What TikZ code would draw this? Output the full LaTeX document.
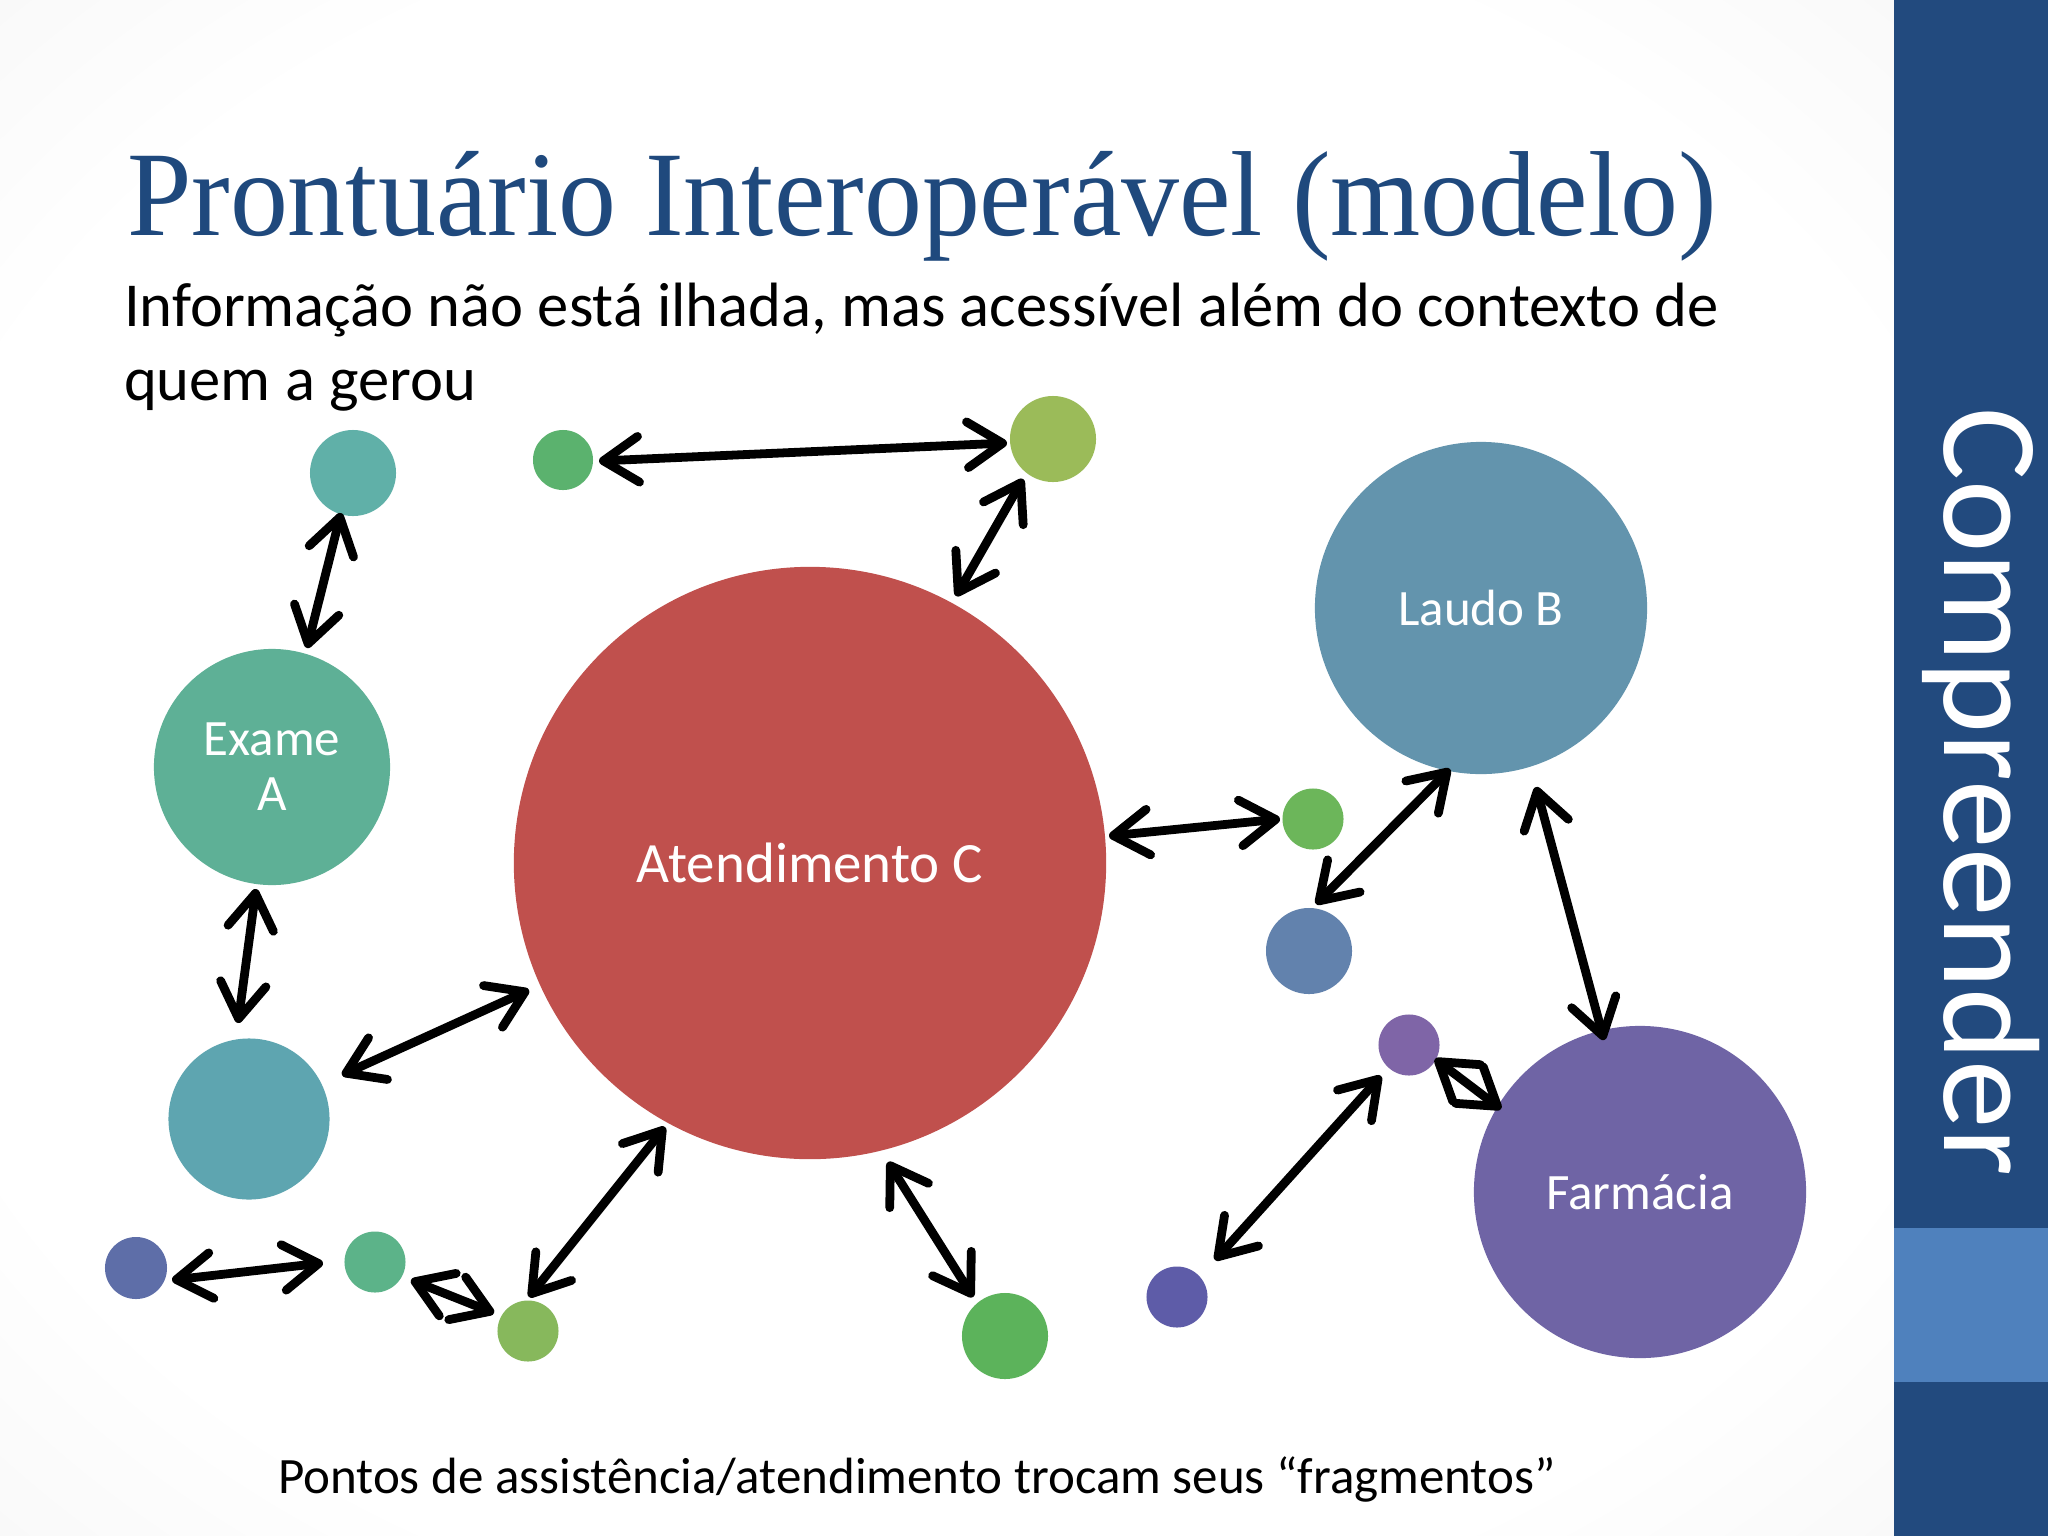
\documentclass[tikz,border=0pt]{standalone}
\usepackage{fontspec}
\setmainfont{Carlito}
\newfontfamily\titlefont{Liberation Serif}
\usetikzlibrary{arrows.meta,calc}
\definecolor{titleblue}{HTML}{1F497D}
\definecolor{sidebar}{HTML}{224A7E}
\definecolor{sideband}{HTML}{4F81BD}
\definecolor{cRed}{HTML}{C0504D}
\definecolor{cTealTop}{HTML}{60B0A8}
\definecolor{cGreenTop}{HTML}{5BB26E}
\definecolor{cOlive}{HTML}{9BBB59}
\definecolor{cExame}{HTML}{5EB096}
\definecolor{cLaudo}{HTML}{6394AD}
\definecolor{cGreenR}{HTML}{6CB65A}
\definecolor{cBGray}{HTML}{6282AD}
\definecolor{cPurple}{HTML}{7F65A7}
\definecolor{cFarm}{HTML}{6F64A5}
\definecolor{cNavy}{HTML}{5E5CA8}
\definecolor{cTealMed}{HTML}{5EA5B0}
\definecolor{cBlueFL}{HTML}{5E6EA8}
\definecolor{cGSmall}{HTML}{5CB389}
\definecolor{cLGreen}{HTML}{87B85C}
\definecolor{cGBot}{HTML}{5CB35B}
\pgfdeclareradialshading{vign}{\pgfpoint{0bp}{0bp}}{color(0bp)=(white);color(28bp)=(white);color(50bp)=(black!7);color(72bp)=(black!16)}
\begin{document}
\begin{tikzpicture}[x=0.01cm,y=-0.01cm,
  blob/.style 2 args={circle,inner sep=0pt,fill=#1,minimum size=#2,text=white,align=center,
     font=\fontsize{14.5}{15.6}\selectfont},
  dar/.style={{Straight Barb[length=10pt,width=13pt,round]}-{Straight Barb[length=10pt,width=13pt,round]},
     line width=2.5pt,line cap=round},
  txt/.style={anchor=base west,inner sep=0pt,outer sep=0pt}]
\useasboundingbox (0,0) rectangle (2048,1536);
\shade[shading=vign] (0,0) rectangle (1894,1536);
\fill[sidebar] (1894,0) rectangle (2048,1536);
\fill[sideband] (1894,1228) rectangle (2048,1382);
\node[txt,rotate=-90,text=white,font=\fontsize{39}{46}\selectfont] (side) at (1944,407) {Compreender};

\node[txt,text=titleblue,font=\titlefont\fontsize{34.4}{40}\selectfont] (title) at (127,235) {\scalebox{0.958}[1]{Prontuário Interoperável (modelo)}};
\node[txt,font=\fontsize{17.8}{20}\selectfont] (sub1) at (124,326) {Informação não está ilhada, mas acessível além do contexto de};
\node[txt,font=\fontsize{17.8}{20}\selectfont] (sub2) at (124,400) {quem a gerou};
\node[txt,font=\fontsize{14.5}{17}\selectfont] (foot) at (278,1493) {Pontos de assistência/atendimento trocam seus “fragmentos”};

\node[blob={cTealTop}{0.86cm}] (tealtop) at (353,473) {};
\node[blob={cGreenTop}{0.60cm}] (gtop) at (563,460) {};
\node[blob={cOlive}{0.86cm}] (olive) at (1053,439) {};
\node[blob={cExame}{2.36cm}] (exame) at (272,767) {Exame\\A};
\node[blob={cRed}{5.92cm},font=\fontsize{16.2}{18}\selectfont] (atend) at (810,863) {Atendimento C};
\node[blob={cLaudo}{3.32cm}] (laudo) at (1481,608) {Laudo B};
\node[blob={cGreenR}{0.61cm}] (gright) at (1313,819) {};
\node[blob={cBGray}{0.86cm}] (bgray) at (1309,951) {};
\node[blob={cPurple}{0.61cm}] (purple) at (1409,1045) {};
\node[blob={cFarm}{3.32cm}] (farm) at (1640,1192) {Farmácia};
\node[blob={cNavy}{0.61cm}] (navy) at (1177,1297) {};
\node[blob={cTealMed}{1.61cm}] (tealmed) at (249,1119) {};
\node[blob={cBlueFL}{0.62cm}] (bluefl) at (136,1268) {};
\node[blob={cGSmall}{0.61cm}] (gsmall) at (375,1262) {};
\node[blob={cLGreen}{0.61cm}] (lgreen) at (528,1331) {};
\node[blob={cGBot}{0.86cm}] (gbot) at (1005,1336) {};

\draw[dar] ($(gtop)+(36,1)$) -- ($(olive)+(-46,4)$);
\draw[dar] ($(olive)+(-30,40)$) -- ($(atend)+(146,-267)$);
\draw[dar] ($(tealtop)+(-12,40)$) -- ($(exame)+(35,-119)$);
\draw[dar] ($(exame)+(-16,122)$) -- ($(tealmed)+(-11,-96)$);
\draw[dar] ($(atend)+(-281,127)$) -- ($(tealmed)+(93,-44)$);
\draw[dar] ($(atend)+(299,-27)$) -- ($(gright)+(-33,0)$);
\draw[dar] ($(laudo)+(-31,161)$) -- ($(bgray)+(7,-47)$);
\draw[dar] ($(laudo)+(55,179)$) -- ($(farm)+(-36,-152)$);
\draw[dar] ($(purple)+(26,14)$) -- ($(farm)+(-139,-83)$);
\draw[dar] ($(purple)+(-28,31)$) -- ($(navy)+(38,-37)$);
\draw[dar] ($(bluefl)+(36,12)$) -- ($(gsmall)+(-52,1)$);
\draw[dar] ($(gsmall)+(36,18)$) -- ($(lgreen)+(-34,-18)$);
\draw[dar] ($(atend)+(-145,264)$) -- ($(lgreen)+(1,-34)$);
\draw[dar] ($(atend)+(78,299)$) -- ($(gbot)+(-32,-39)$);
\end{tikzpicture}
\end{document}
